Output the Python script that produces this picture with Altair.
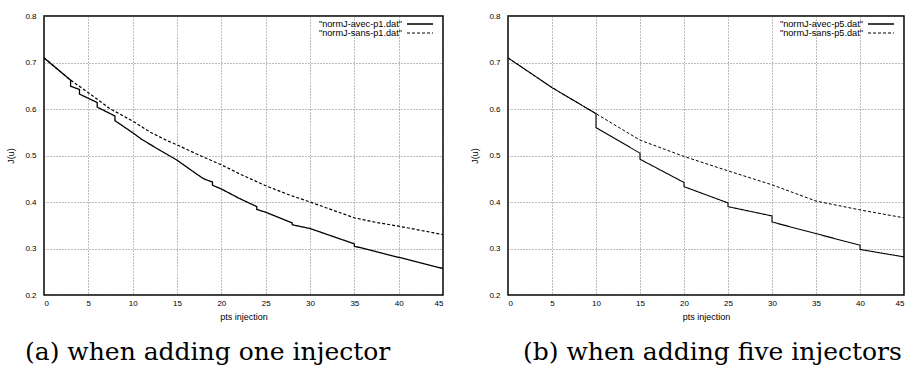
import altair as alt
import pandas as pd

# Panel (a): one injector added
a_avec_x = [0, 3, 3, 4, 4, 6, 6, 8, 8, 10, 11, 13, 15, 17, 18, 19, 19, 20, 22, 24, 24, 25, 28, 28, 30, 35, 35, 40, 45]
a_avec_y = [0.710, 0.662, 0.649, 0.642, 0.632, 0.614, 0.604, 0.585, 0.575, 0.549, 0.535, 0.512, 0.490, 0.463, 0.450, 0.443, 0.436, 0.428, 0.408, 0.390, 0.384, 0.378, 0.355, 0.351, 0.343, 0.310, 0.305, 0.281, 0.257]
a_sans_x = [0, 3, 5, 7.5, 10, 12, 14, 15, 17, 20, 22, 25, 27.7, 30, 35, 37.5, 40, 45]
a_sans_y = [0.710, 0.662, 0.635, 0.600, 0.574, 0.550, 0.531, 0.523, 0.505, 0.480, 0.461, 0.435, 0.415, 0.400, 0.366, 0.356, 0.348, 0.330]

# Panel (b): five injectors added
b_avec_x = [0, 5, 10, 10, 15, 15, 20, 20, 25, 25, 30, 30, 35, 40, 40, 45]
b_avec_y = [0.710, 0.646, 0.590, 0.560, 0.505, 0.492, 0.442, 0.433, 0.398, 0.390, 0.370, 0.357, 0.332, 0.307, 0.298, 0.282]
b_sans_x = [0, 5, 10, 15, 20, 25, 30, 35, 40, 45]
b_sans_y = [0.710, 0.646, 0.590, 0.533, 0.498, 0.467, 0.437, 0.402, 0.383, 0.366]

x_ticks = [0, 5, 10, 15, 20, 25, 30, 35, 40, 45]
y_ticks = [0.2, 0.3, 0.4, 0.5, 0.6, 0.7, 0.8]

H = 279
FONT = "Liberation Sans"
WIDTHS = [1.3, 1.0]
DASHES = [[1, 0], [3, 2]]


def series(xs, ys, name):
    return pd.DataFrame({"x": xs, "y": ys, "s": name, "i": range(len(xs))})


def key_row(name, row, w):
    # one key entry: quoted file name, then a short sample of its line style
    ypos = 8 + 9 * row
    txt = alt.Chart(pd.DataFrame({"label": ['"%s"' % name]})).mark_text(
        align="right", baseline="middle", font=FONT, fontSize=9.2, color="black"
    ).encode(text="label:N", x=alt.value(w - 41), y=alt.value(ypos))
    sample = alt.Chart(pd.DataFrame({"s": [name]})).mark_rule(
        color="black", strokeWidth=WIDTHS[row], strokeDash=DASHES[row]
    ).encode(x=alt.value(w - 36), x2=alt.value(w - 10), y=alt.value(ypos))
    return [txt, sample]


def panel(avec, sans, names, caption, cap_dx, w):
    df = pd.concat([avec, sans], ignore_index=True)
    lines = alt.Chart(df).mark_line(color="black", clip=True).encode(
        x=alt.X("x:Q", scale=alt.Scale(domain=[0, 45], nice=False),
                axis=alt.Axis(values=x_ticks, title="pts injection", format="d")),
        y=alt.Y("y:Q", scale=alt.Scale(domain=[0.2, 0.8], nice=False, zero=False),
                axis=alt.Axis(values=y_ticks, title="J(u)", format=".1f")),
        detail="s:N",
        order=alt.Order("i:Q"),
        strokeWidth=alt.StrokeWidth("s:N", scale=alt.Scale(domain=names, range=WIDTHS), legend=None),
        strokeDash=alt.StrokeDash("s:N", scale=alt.Scale(domain=names, range=DASHES), legend=None),
    )
    layers = [lines] + key_row(names[0], 0, w) + key_row(names[1], 1, w)
    return alt.layer(*layers).properties(
        width=w, height=H,
        title=alt.TitleParams(caption, orient="bottom", anchor="start", frame="group", dx=cap_dx, offset=19,
                              font="DejaVu Serif", fontSize=25, fontWeight="normal", color="black"),
    )


left = panel(series(a_avec_x, a_avec_y, "normJ-avec-p1.dat"), series(a_sans_x, a_sans_y, "normJ-sans-p1.dat"),
             ["normJ-avec-p1.dat", "normJ-sans-p1.dat"], "(a) when adding one injector", -19, 399)
right = panel(series(b_avec_x, b_avec_y, "normJ-avec-p5.dat"), series(b_sans_x, b_sans_y, "normJ-sans-p5.dat"),
              ["normJ-avec-p5.dat", "normJ-sans-p5.dat"], "(b) when adding five injectors", 15, 396)

chart = alt.hconcat(left, right, spacing=26).properties(
    padding={"left": 6, "top": 11, "right": 0, "bottom": 0},
    background="white",
).configure_view(stroke="black", strokeWidth=1.5).configure_axis(
    grid=True, gridColor="#555555", gridDash=[1, 2], gridWidth=0.8,
    domain=False, ticks=False, labelFont=FONT, labelFontSize=8, labelColor="black",
    titleFont=FONT, titleFontSize=9, titleFontWeight="normal", titleColor="black",
).configure_axisY(labelPadding=8, titlePadding=9).configure_axisX(labelPadding=4, titlePadding=5)

chart.save("out.html", embed_options={"renderer": "svg", "actions": False})
